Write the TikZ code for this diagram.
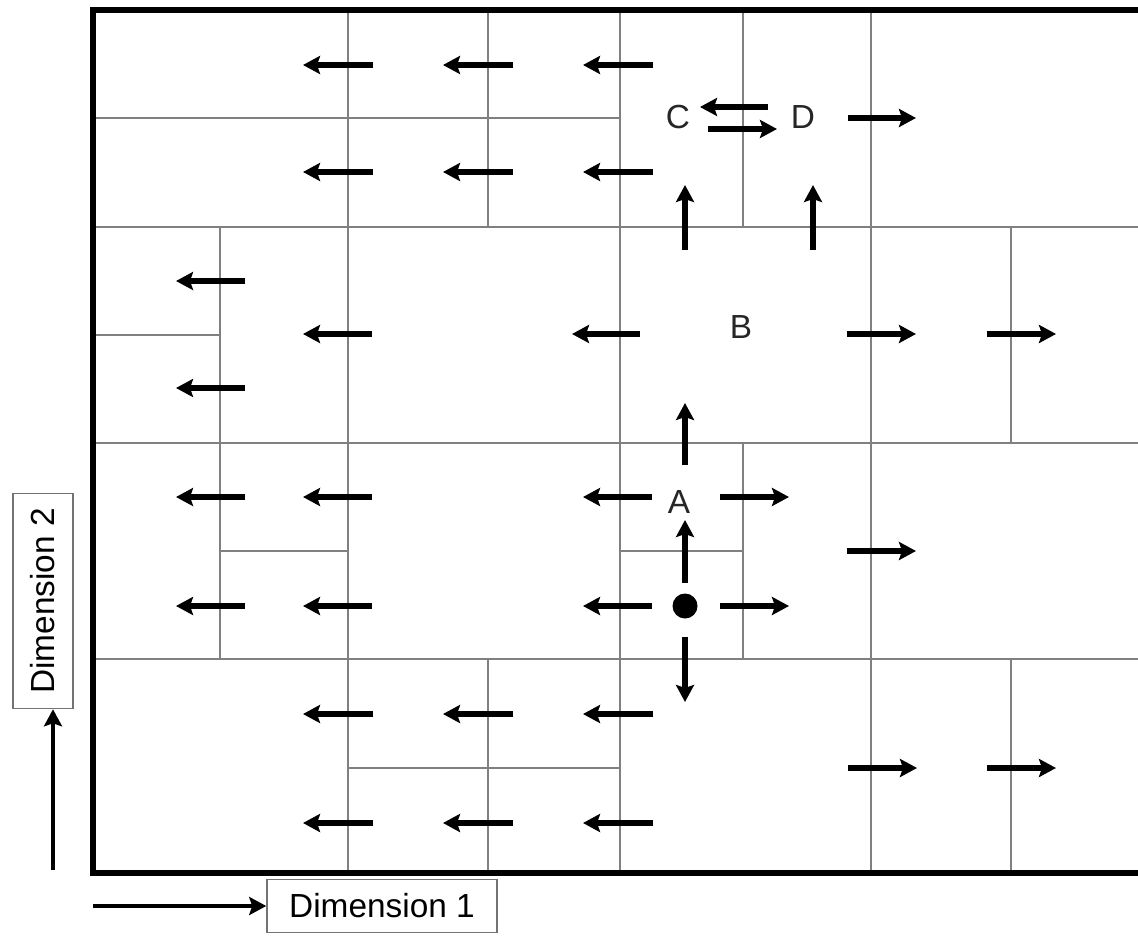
\documentclass[tikz,border=0pt]{standalone}
\usepackage{fontspec}
\setsansfont{Liberation Sans}
\usetikzlibrary{arrows.meta}

\begin{document}
\begin{tikzpicture}[x=0.02cm, y=-0.02cm, font=\sffamily\fontsize{19}{22}\selectfont, >={Stealth[length=0.34cm, width=0.36cm, inset=0.06cm]}]
    \tikzstyle{frame}=[line width=3.4pt]
    \tikzstyle{cell}=[draw=black!50, line width=1.1pt]
    \tikzstyle{move}=[->, line width=3.2pt]
    \tikzstyle{pointlabel}=[text=black!85, inner sep=0pt]
    \tikzstyle{dot}=[circle, fill=black, minimum size=0.5cm, inner sep=0pt]
    \tikzstyle{dimbox}=[draw=black!55, line width=0.9pt, fill=white, minimum width=4.6cm, minimum height=1.06cm, inner sep=2pt]

    \useasboundingbox (0,0) rectangle (1138,936);

    % partition of the search space
    \draw[cell] (93,227) -- (1138,227);
    \draw[cell] (93,443) -- (1138,443);
    \draw[cell] (93,659) -- (1138,659);
    \draw[cell] (93,118) -- (620,118);
    \draw[cell] (93,335) -- (220,335);
    \draw[cell] (220,551) -- (348,551);
    \draw[cell] (620,551) -- (743,551);
    \draw[cell] (348,768) -- (620,768);
    \draw[cell] (348,10) -- (348,873);
    \draw[cell] (620,10) -- (620,873);
    \draw[cell] (871,10) -- (871,873);
    \draw[cell] (220,227) -- (220,659);
    \draw[cell] (488,10) -- (488,227);
    \draw[cell] (488,659) -- (488,873);
    \draw[cell] (743,10) -- (743,227);
    \draw[cell] (743,443) -- (743,659);
    \draw[cell] (1011,227) -- (1011,443);
    \draw[cell] (1011,659) -- (1011,873);

    % outer border
    \draw[frame] (1145,10) -- (93,10) -- (93,873) -- (1145,873);

    % moves to the left
    \foreach \y in {65,172,714,823}
        \foreach \x in {303,443,583}
            \draw[move] (\x+70,\y) -- (\x,\y);
    \foreach \y in {497,606}
        \foreach \x in {176,303,583}
            \draw[move] (\x+69,\y) -- (\x,\y);
    \foreach \y in {281,388}
        \draw[move] (245,\y) -- (176,\y);
    \draw[move] (372,334) -- (303,334);
    \draw[move] (640,334) -- (572,334);

    % moves to the right
    \draw[move] (848,118) -- (916,118);
    \draw[move] (847,334) -- (916,334);
    \draw[move] (987,334) -- (1056,334);
    \draw[move] (720,497) -- (789,497);
    \draw[move] (720,606) -- (789,606);
    \draw[move] (847,551) -- (916,551);
    \draw[move] (848,768) -- (917,768);
    \draw[move] (987,768) -- (1056,768);

    % moves up and down
    \draw[move] (685,250) -- (685,185);
    \draw[move] (813,250) -- (813,185);
    \draw[move] (685,465) -- (685,403);
    \draw[move] (685,583) -- (685,520);
    \draw[move] (685,637) -- (685,702);

    % points
    \node[dot] (start) at (685,606) {};
    \node[pointlabel] (A) at (679,502) {A};
    \node[pointlabel] (B) at (741,327) {B};
    \node[pointlabel] (C) at (678,117) {C};
    \node[pointlabel] (D) at (803,117) {D};
    \draw[move] (768,107) -- (700,107);
    \draw[move] (708,129) -- (777,129);

    % axes
    \node[dimbox] (dim1) at (382,906) {Dimension 1};
    \node[dimbox, rotate=90, minimum width=4.3cm, minimum height=1.2cm] (dim2) at (43,601) {Dimension 2};
    \coordinate (d1tail) at (93,906);
    \coordinate (d2tail) at (53,870);
    \draw[move, line width=2.8pt] (d1tail) -- (dim1.west);
    \draw[move, line width=2.8pt] (d2tail) -- (d2tail |- dim2.west);

\end{tikzpicture}
\end{document}
